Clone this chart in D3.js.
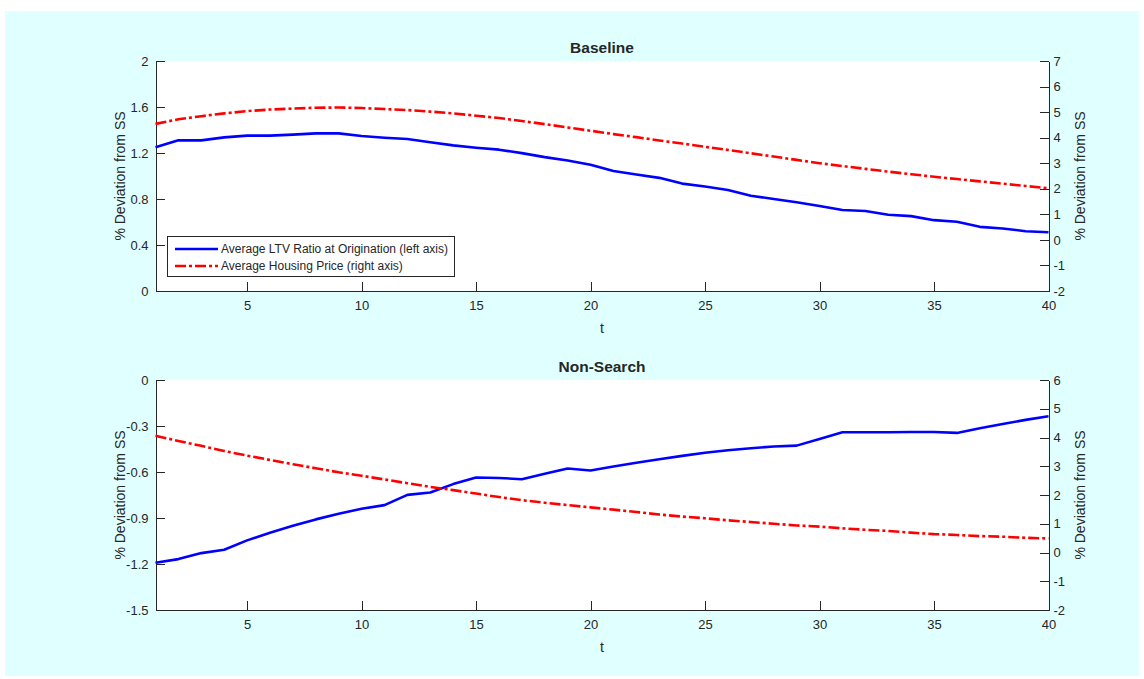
<!DOCTYPE html>
<html><head><meta charset="utf-8">
<script src="https://cdn.jsdelivr.net/npm/d3@7"></script>
<style>
body{margin:0;background:#fff}
svg text{font-family:Arial,"Liberation Sans",Helvetica,sans-serif;fill:#262626}
</style>
</head><body>
<svg id="chart" width="1144" height="679"></svg>
<script>
// ---------- data ----------
const periods = [1,2,3,4,5,6,7,8,9,10,11,12,13,14,15,16,17,18,19,20,
                 21,22,23,24,25,26,27,28,29,30,31,32,33,34,35,36,37,38,39,40];

// Baseline: LTV (left axis) and housing price (right axis)
const baselineLTV = [1.249,1.310,1.310,1.336,1.351,1.351,1.360,1.371,1.371,1.348,
                     1.333,1.322,1.293,1.266,1.246,1.229,1.199,1.164,1.135,1.097,
                     1.044,1.013,0.984,0.934,0.908,0.879,0.829,0.800,0.771,0.739,
                     0.704,0.695,0.663,0.651,0.616,0.602,0.558,0.544,0.520,0.511];
const baselinePrice = [4.54,4.72,4.84,4.95,5.04,5.10,5.14,5.17,5.18,5.16,
                       5.12,5.08,5.02,4.95,4.86,4.77,4.65,4.53,4.40,4.27,
                       4.14,4.02,3.89,3.77,3.64,3.52,3.39,3.26,3.13,3.00,
                       2.89,2.78,2.67,2.57,2.47,2.38,2.29,2.20,2.11,2.02];

// Non-Search: LTV (left axis) and housing price (right axis)
const nonSearchLTV = [-1.192,-1.168,-1.129,-1.107,-1.046,-0.996,-0.951,-0.909,-0.873,-0.840,
                      -0.816,-0.749,-0.734,-0.679,-0.636,-0.639,-0.647,-0.612,-0.577,-0.590,
                      -0.564,-0.540,-0.517,-0.495,-0.475,-0.458,-0.445,-0.434,-0.428,-0.384,
                      -0.341,-0.341,-0.341,-0.339,-0.339,-0.345,-0.315,-0.287,-0.260,-0.237];
const nonSearchPrice = [4.06,3.88,3.71,3.53,3.37,3.22,3.07,2.93,2.79,2.67,
                        2.54,2.41,2.28,2.17,2.05,1.93,1.82,1.73,1.65,1.57,
                        1.49,1.41,1.32,1.25,1.19,1.12,1.06,1.00,0.94,0.90,
                        0.84,0.79,0.75,0.69,0.64,0.61,0.57,0.55,0.51,0.49];

const xTicks = [5,10,15,20,25,30,35,40];
const baselineLeftTicks = [0,0.4,0.8,1.2,1.6,2];
const baselineRightTicks = [-2,-1,0,1,2,3,4,5,6,7];
const nonSearchLeftTicks = [-1.5,-1.2,-0.9,-0.6,-0.3,0];
const nonSearchRightTicks = [-2,-1,0,1,2,3,4,5,6];

const panelTitles = ["Baseline","Non-Search"];
const seriesNames = ["Average LTV Ratio at Origination (left axis)","Average Housing Price (right axis)"];
const yLabel = "% Deviation from SS";
const xLabel = "t";

// ---------- drawing ----------
const svg = d3.select("#chart");
svg.append("rect").attr("x",5).attr("y",11).attr("width",1134).attr("height",665).attr("fill","#e0ffff");

const X0 = 155.5, X1 = 1048.5;
const x = d3.scaleLinear().domain([1,40]).range([X0,X1]);
const axisColor = "#262626";
const BLUE = "#0000ff", RED = "#ff0000";
const DASH = "11,3,3,3";

function panel(top, bottom, title, leftDom, leftTicks, rightDom, rightTicks, ltv, price, legend){
  const yL = d3.scaleLinear().domain(leftDom).range([bottom, top]);
  const yR = d3.scaleLinear().domain(rightDom).range([bottom, top]);
  const g = svg.append("g");
  g.append("rect").attr("x",X0).attr("y",top).attr("width",X1-X0).attr("height",bottom-top).attr("fill","#fff");

  const styleAxis = sel => {
    sel.attr("shape-rendering","crispEdges");
    sel.selectAll("path,line").attr("stroke",axisColor);
    sel.selectAll("text").attr("fill",axisColor).style("font-size","13px").style("font-family","Arial, 'Liberation Sans', sans-serif");
  };
  g.append("g").attr("transform",`translate(0,${bottom})`)
    .call(d3.axisBottom(x).tickValues(xTicks).tickFormat(d=>String(d)).tickSizeInner(-9).tickSizeOuter(0).tickPadding(10))
    .call(styleAxis);
  g.append("g").attr("transform",`translate(${X0},0)`)
    .call(d3.axisLeft(yL).tickValues(leftTicks).tickFormat(d=>String(d)).tickSizeInner(-9).tickSizeOuter(0).tickPadding(7))
    .call(styleAxis);
  g.append("g").attr("transform",`translate(${X1},0)`)
    .call(d3.axisRight(yR).tickValues(rightTicks).tickFormat(d=>String(d)).tickSizeInner(-9).tickSizeOuter(0).tickPadding(5))
    .call(styleAxis);

  const lineL = d3.line().x((d,i)=>x(periods[i])).y(d=>yL(d));
  const lineR = d3.line().x((d,i)=>x(periods[i])).y(d=>yR(d));
  g.append("path").datum(ltv).attr("d",lineL).attr("fill","none").attr("stroke",BLUE).attr("stroke-width",2.6).attr("stroke-linejoin","round");
  g.append("path").datum(price).attr("d",lineR).attr("fill","none").attr("stroke",RED).attr("stroke-width",2.6).attr("stroke-dasharray",DASH);

  g.append("text").attr("x",(X0+X1)/2).attr("y",top-8).attr("text-anchor","middle")
    .style("font-size","15.5px").style("font-weight","bold").attr("fill","#000").text(title);
  g.append("text").attr("x",(X0+X1)/2).attr("y",bottom+42).attr("text-anchor","middle")
    .style("font-size","14px").text(xLabel);
  g.append("text").attr("transform",`translate(125,${(top+bottom)/2}) rotate(-90)`).attr("text-anchor","middle")
    .style("font-size","14px").text(yLabel);
  g.append("text").attr("transform",`translate(1085,${(top+bottom)/2}) rotate(-90)`).attr("text-anchor","middle")
    .style("font-size","14px").text(yLabel);

  if(legend){
    const lg = g.append("g");
    lg.append("rect").attr("x",167.5).attr("y",236.5).attr("width",287).attr("height",39.5)
      .attr("fill","#fff").attr("stroke",axisColor).attr("stroke-width",1).attr("shape-rendering","crispEdges");
    const rows = [{c:BLUE,d:null,y:249},{c:RED,d:DASH,y:266}];
    rows.forEach((r,i)=>{
      const ln = lg.append("line").attr("x1",175).attr("x2",218).attr("y1",r.y).attr("y2",r.y)
        .attr("stroke",r.c).attr("stroke-width",2.6);
      if(r.d) ln.attr("stroke-dasharray",r.d);
      lg.append("text").attr("x",221).attr("y",r.y+4.2).style("font-size","12px").text(seriesNames[i]);
    });
  }
}

panel(61, 291, panelTitles[0], [0,2], baselineLeftTicks, [-2,7], baselineRightTicks, baselineLTV, baselinePrice, true);
panel(380, 610, panelTitles[1], [-1.5,0], nonSearchLeftTicks, [-2,6], nonSearchRightTicks, nonSearchLTV, nonSearchPrice, false);
</script>
</body></html>
